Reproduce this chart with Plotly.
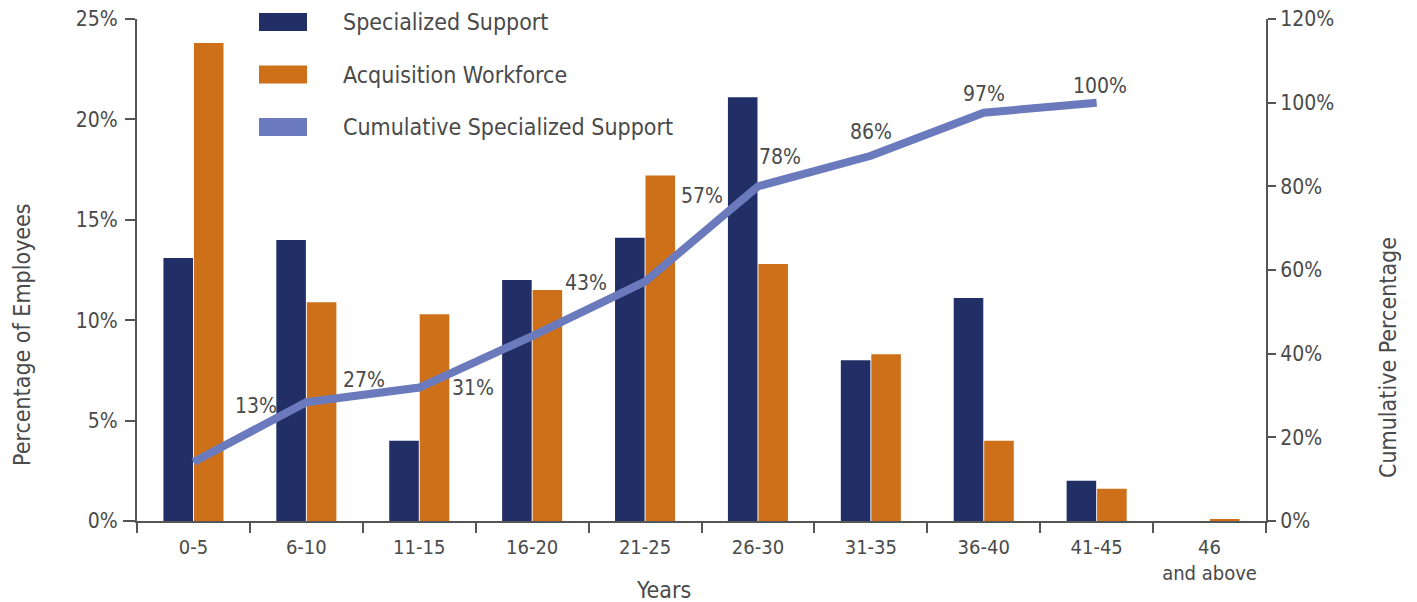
import plotly.graph_objects as go

categories = ["0-5", "6-10", "11-15", "16-20", "21-25", "26-30", "31-35", "36-40", "41-45", "46<br>and above"]
specialized_support = [13.1, 14.0, 4.0, 12.0, 14.1, 21.1, 8.0, 11.1, 2.0, 0.0]
acquisition_workforce = [23.8, 10.9, 10.3, 11.5, 17.2, 12.8, 8.3, 4.0, 1.6, 0.1]
cumulative_categories = categories[:9]
cumulative_line = [14.1, 28.4, 31.9, 44.2, 57.2, 80.0, 87.3, 97.6, 100.0]
cumulative_labels = ["13%", "27%", "31%", "43%", "57%", "78%", "86%", "97%", "100%"]
y_ticks_left = [0, 5, 10, 15, 20, 25]
y_ticks_right = [0, 20, 40, 60, 80, 100, 120]

NAVY = "#212f66"
ORANGE = "#cd7019"
LINE = "#6a7abd"
TEXT = "#4a4a4a"
AXIS = "#555555"
FONT = "DejaVu Sans Condensed, sans-serif"

# page body has an 8px margin in the browser; figure is sized to fit the window
PAGE_OFF = 8
FIG_W, FIG_H = 1417 - PAGE_OFF, 602 - PAGE_OFF

fig = go.Figure()
fig.add_trace(go.Bar(x=categories, y=specialized_support, name="Specialized Support",
                     marker=dict(color=NAVY, line=dict(width=0)), yaxis="y"))
fig.add_trace(go.Bar(x=categories, y=acquisition_workforce, name="Acquisition Workforce",
                     marker=dict(color=ORANGE, line=dict(width=0)), yaxis="y"))
fig.add_trace(go.Scatter(x=cumulative_categories, y=cumulative_line, name="Cumulative Specialized Support",
                         mode="lines", line=dict(color=LINE, width=8), yaxis="y2"))

# label offsets (pixels) relative to line vertices
label_offsets = [(63, 56), (58, 22), (54, 0), (54, 53), (57, 86), (22, 29), (0, 24), (0, 19), (3, 17)]
for cat, val, txt, (dx, dy) in zip(cumulative_categories, cumulative_line, cumulative_labels, label_offsets):
    fig.add_annotation(x=cat, y=val, xref="x", yref="y2", text=txt, showarrow=False,
                       xshift=dx, yshift=dy, font=dict(family=FONT, size=21, color=TEXT))

# plot area in screen pixels
plot_left, plot_right, plot_top, plot_bottom = 137, 1266, 19, 521
def px_x(x):
    return (x - plot_left) / (plot_right - plot_left)
def px_y(y):
    return (plot_bottom - y) / (plot_bottom - plot_top)

# manual legend
legend_items = [("Specialized Support", NAVY, 22), ("Acquisition Workforce", ORANGE, 74.5),
                ("Cumulative Specialized Support", LINE, 127)]
for name, color, yc in legend_items:
    fig.add_shape(type="rect", xref="paper", yref="paper", x0=px_x(259), x1=px_x(307),
                  y0=px_y(yc + 9), y1=px_y(yc - 9), fillcolor=color, line=dict(width=0), layer="above")
    fig.add_annotation(xref="paper", yref="paper", x=px_x(341), y=px_y(yc), text=name, showarrow=False,
                       xanchor="left", yanchor="middle", font=dict(family=FONT, size=23, color=TEXT))

# axis titles
fig.add_annotation(xref="paper", yref="paper", x=px_x(22), y=px_y(335), text="Percentage of Employees",
                   textangle=-90, showarrow=False, xanchor="center", yanchor="middle",
                   font=dict(family=FONT, size=23, color=TEXT))
fig.add_annotation(xref="paper", yref="paper", x=px_x(1388), y=px_y(358), text="Cumulative Percentage",
                   textangle=-90, showarrow=False, xanchor="center", yanchor="middle",
                   font=dict(family=FONT, size=23, color=TEXT))
fig.add_annotation(xref="paper", yref="paper", x=px_x(663), y=px_y(590), text="Years",
                   showarrow=False, xanchor="center", yanchor="middle",
                   font=dict(family=FONT, size=23, color=TEXT))

# small extension of the x axis line to the left of the y axis
fig.add_shape(type="line", xref="paper", yref="paper", x0=px_x(123), x1=0, y0=0, y1=0,
              line=dict(color=AXIS, width=2))

fig.update_layout(
    width=FIG_W, height=FIG_H,
    margin=dict(l=plot_left - PAGE_OFF, r=FIG_W - (plot_right - PAGE_OFF),
                t=plot_top - PAGE_OFF, b=FIG_H - (plot_bottom - PAGE_OFF), pad=0),
    paper_bgcolor="white", plot_bgcolor="white",
    barmode="group", bargap=0.46, bargroupgap=0.03,
    showlegend=False,
    font=dict(family=FONT, size=21, color=TEXT),
    xaxis=dict(type="category", tickson="boundaries", ticks="outside", ticklen=10, tickwidth=2,
               tickcolor=AXIS, showline=True, linecolor=AXIS, linewidth=2, showgrid=False,
               tickangle=0, automargin=False, ticklabelstandoff=7,
               tickfont=dict(family=FONT, size=20, color=TEXT)),
    yaxis=dict(range=[0, 25], tickvals=y_ticks_left, ticktext=[f"{v}%" for v in y_ticks_left],
               ticks="outside", ticklen=10, tickwidth=2, tickcolor=AXIS, showline=True,
               linecolor=AXIS, linewidth=2, showgrid=False, zeroline=False, automargin=False,
               ticklabelstandoff=3, ticklabeloverflow="allow",
               tickfont=dict(family=FONT, size=21, color=TEXT)),
    yaxis2=dict(range=[0, 120], tickvals=y_ticks_right, ticktext=[f"{v}%" for v in y_ticks_right],
                overlaying="y", side="right", ticks="outside", ticklen=8, tickwidth=2, tickcolor=AXIS,
                showline=True, linecolor=AXIS, linewidth=2, showgrid=False, zeroline=False,
                automargin=False, ticklabeloverflow="allow",
                tickfont=dict(family=FONT, size=21, color=TEXT)),
)

fig.write_html("out.html")
